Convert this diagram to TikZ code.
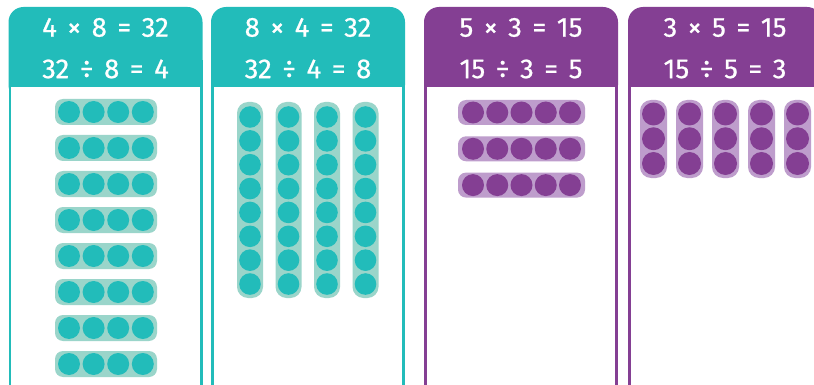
\documentclass[tikz,border=0pt]{standalone}
\usepackage{fontspec}
\setmainfont[WordSpace=1.45, FakeBold=0.6]{Fira Sans}
\definecolor{tealA}{HTML}{22BCBA}
\definecolor{tealB}{HTML}{9AD5CA}
\definecolor{purpA}{HTML}{843F93}
\definecolor{purpB}{HTML}{BE9DCC}
\newcommand\mkpanel[5]{%
  % #1 left x, #2 colour, #3 line 1, #4 line 2, #5 name
  \fill[#2, rounded corners=15pt] (#1,7) rectangle ({#1+194},100);
  \fill[#2] (#1,60) rectangle ({#1+194},400);
  \fill[white] ({#1+2.6},87) rectangle ({#1+194-2.6},400);
  \node[hdr] (#5a) at ({#1+97},27.5) {#3};
  \node[hdr] (#5b) at ({#1+97},69) {#4};
}
\begin{document}
\begin{tikzpicture}[x=1pt,y=-1pt,
  hdr/.style={text=white, font=\fontsize{27.5}{30}\selectfont, inner sep=0pt, anchor=center}]
\useasboundingbox (0,0) rectangle (814,385);
\clip (0,0) rectangle (814,385);
\fill[white] (0,0) rectangle (814,385);
\mkpanel{8.5}{tealA}{4 × 8 = 32}{32 ÷ 8 = 4}{pa}
\mkpanel{211}{tealA}{8 × 4 = 32}{32 ÷ 4 = 8}{pb}
\mkpanel{424}{purpA}{5 × 3 = 15}{15 ÷ 3 = 5}{pc}
\mkpanel{628}{purpA}{3 × 5 = 15}{15 ÷ 5 = 3}{pd}
% panel 1: 8 rows of 4
\foreach \r in {0,...,7}{
  \fill[tealB, rounded corners=8pt] (55,{99+36*\r}) rectangle (157,{125+36*\r});
  \foreach \c in {0,...,3}
    \fill[tealA] ({69+24.6*\c},{112+36*\r}) circle (11);
}
% panel 2: 4 columns of 8
\foreach \c in {0,...,3}{
  \fill[tealB, rounded corners=11pt] ({237+38.5*\c},102) rectangle ({263+38.5*\c},298);
  \foreach \r in {0,...,7}
    \fill[tealA] ({250+38.5*\c},{117+23.86*\r}) circle (10.8);
}
% panel 3: 3 rows of 5
\foreach \r in {0,...,2}{
  \fill[purpB, rounded corners=8pt] (458,{100+36.3*\r}) rectangle (585,{125+36.3*\r});
  \foreach \c in {0,...,4}
    \fill[purpA] ({473+24.25*\c},{112.5+36.3*\r}) circle (11);
}
% panel 4: 5 columns of 3
\foreach \c in {0,...,4}{
  \fill[purpB, rounded corners=11pt] ({640+36*\c},100) rectangle ({667+36*\c},178);
  \foreach \r in {0,...,2}
    \fill[purpA] ({653.5+36*\c},{114+24.75*\r}) circle (11.5);
}
\end{tikzpicture}
\end{document}
